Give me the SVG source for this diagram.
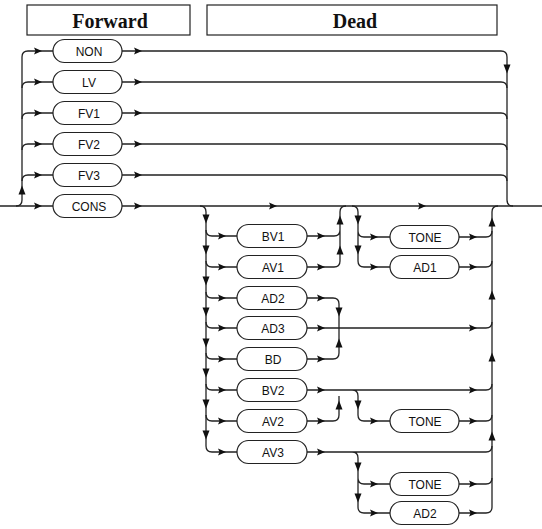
<svg xmlns="http://www.w3.org/2000/svg" width="542" height="529" viewBox="0 0 542 529">
<style>
.hdr{fill:#fff;stroke:#222;stroke-width:1.2}
.ht{font-family:"Liberation Serif",serif;font-weight:bold;font-size:20px;fill:#111;text-anchor:middle}
.pill{fill:#fff;stroke:#222;stroke-width:1.2}
.pt{font-family:"Liberation Sans",Arial,sans-serif;font-size:12px;fill:#111;text-anchor:middle}
.ln{fill:none;stroke:#222;stroke-width:1.3}
.ah{fill:#111}
</style>
<defs>
<path id="ar" d="M-4,-3.5 L4,0 L-4,3.5 L-2.5,0 Z"/>
<path id="ad" d="M-3.5,-4.5 L3.5,-4.5 L0,4.5 Z"/>
<path id="au" d="M-3.5,4.5 L3.5,4.5 L0,-4.5 Z"/>
</defs>
<g id="header-forward"><rect class="hdr" x="27" y="5" width="163" height="30"/><text class="ht" x="110" y="28">Forward</text></g>
<g id="header-dead"><rect class="hdr" x="207" y="5" width="290" height="30"/><text class="ht" x="355" y="28">Dead</text></g>
<g id="connectors">
<path class="ln" d="M0,206 H53"/>
<path class="ln" d="M16,206 q6,0 6,-6 V57 q0,-6 6,-6 H53"/>
<path class="ln" d="M22,88 q0,-6 6,-6 H53 M22,119 q0,-6 6,-6 H53 M22,150 q0,-6 6,-6 H53 M22,181 q0,-6 6,-6 H53"/>
<path class="ln" d="M122,51 H501 q6,0 6,6 V200 q0,6 6,6"/>
<path class="ln" d="M122,82 H501 q6,0 6,6 M122,113 H501 q6,0 6,6 M122,144 H501 q6,0 6,6 M122,175 H501 q6,0 6,6"/>
<path class="ln" d="M122,206 H542"/>
<path class="ln" d="M200,206 q6,0 6,6 V446 q0,6 6,6 H237"/>
<path class="ln" d="M206,230 q0,6 6,6 H237 M206,261 q0,6 6,6 H237 M206,292 q0,6 6,6 H237 M206,322 q0,6 6,6 H237 M206,353 q0,6 6,6 H237 M206,384 q0,6 6,6 H237 M206,415 q0,6 6,6 H237"/>
<path class="ln" d="M307,236 H334 q6,0 6,-6 M307,267 H334 q6,0 6,-6 V212 q0,-6 6,-6"/>
<path class="ln" d="M352,206 q6,0 6,6 V261 q0,6 6,6 H390 M358,231 q0,6 6,6 H390"/>
<path class="ln" d="M459,237 H486 q6,0 6,-6 M459,267 H486 q6,0 6,-6"/>
<path class="ln" d="M459,513 H486 q6,0 6,-6 V212 q0,-6 6,-6"/>
<path class="ln" d="M307,298 H333 q6,0 6,6 V353 q0,6 -6,6 H307 M307,328 H486 q6,0 6,-6"/>
<path class="ln" d="M307,390 H486 q6,0 6,-6 M307,421 H333 q6,0 6,-6 V396 M352,390 q6,0 6,6 V415 q0,6 6,6 H390 M459,421 H486 q6,0 6,-6"/>
<path class="ln" d="M307,452 H486 q6,0 6,-6 M352,452 q6,0 6,6 V507 q0,6 6,6 H390 M358,478 q0,6 6,6 H390 M459,484 H486 q6,0 6,-6"/>
<g class="ah">
<use href="#ar" x="38" y="51"/><use href="#ar" x="38" y="82"/><use href="#ar" x="38" y="113"/><use href="#ar" x="38" y="144"/><use href="#ar" x="38" y="175"/><use href="#ar" x="38" y="206"/>
<use href="#au" x="22" y="190"/>
<use href="#ar" x="138" y="51"/><use href="#ar" x="138" y="82"/><use href="#ar" x="138" y="113"/><use href="#ar" x="138" y="144"/><use href="#ar" x="138" y="175"/><use href="#ar" x="138" y="206"/>
<use href="#ad" x="507" y="69"/>
<use href="#ar" x="273" y="206"/><use href="#ar" x="422" y="206"/>
<use href="#ad" x="206" y="219"/><use href="#ad" x="206" y="250"/><use href="#ad" x="206" y="281"/><use href="#ad" x="206" y="312"/><use href="#ad" x="206" y="343"/><use href="#ad" x="206" y="373"/><use href="#ad" x="206" y="404"/><use href="#ad" x="206" y="435"/>
<use href="#ar" x="222" y="236"/><use href="#ar" x="222" y="267"/><use href="#ar" x="222" y="298"/><use href="#ar" x="222" y="328"/><use href="#ar" x="222" y="359"/><use href="#ar" x="222" y="390"/><use href="#ar" x="222" y="421"/><use href="#ar" x="222" y="452"/>
<use href="#ar" x="321" y="236"/><use href="#ar" x="321" y="267"/><use href="#ar" x="321" y="298"/><use href="#ar" x="321" y="328"/><use href="#ar" x="321" y="359"/><use href="#ar" x="321" y="390"/><use href="#ar" x="321" y="421"/><use href="#ar" x="321" y="452"/>
<use href="#au" x="340" y="220"/><use href="#au" x="340" y="250"/>
<use href="#ad" x="358" y="220"/><use href="#ad" x="358" y="250"/>
<use href="#ar" x="374" y="237"/><use href="#ar" x="374" y="267"/>
<use href="#ar" x="473" y="237"/><use href="#ar" x="473" y="267"/>
<use href="#au" x="492" y="222"/><use href="#au" x="492" y="295"/><use href="#au" x="492" y="357"/><use href="#au" x="492" y="436"/>
<use href="#ad" x="339" y="312"/><use href="#au" x="339" y="343"/>
<use href="#ar" x="473" y="328"/><use href="#ar" x="473" y="390"/>
<use href="#au" x="339" y="405"/><use href="#ad" x="358" y="405"/>
<use href="#ar" x="374" y="421"/><use href="#ar" x="473" y="421"/>
<use href="#ad" x="358" y="467"/><use href="#ad" x="358" y="498"/>
<use href="#ar" x="374" y="484"/><use href="#ar" x="374" y="513"/>
<use href="#ar" x="473" y="484"/><use href="#ar" x="473" y="513"/>
</g>
</g>
<g id="n-NON"><rect class="pill" x="53" y="39.5" width="69" height="23" rx="11.5"/><text class="pt" x="89" y="55.5">NON</text></g>
<g id="n-LV"><rect class="pill" x="53" y="70.5" width="69" height="23" rx="11.5"/><text class="pt" x="89" y="86.5">LV</text></g>
<g id="n-FV1"><rect class="pill" x="53" y="101.5" width="69" height="23" rx="11.5"/><text class="pt" x="89" y="117.5">FV1</text></g>
<g id="n-FV2"><rect class="pill" x="53" y="132.5" width="69" height="23" rx="11.5"/><text class="pt" x="89" y="148.5">FV2</text></g>
<g id="n-FV3"><rect class="pill" x="53" y="163.5" width="69" height="23" rx="11.5"/><text class="pt" x="89" y="179.5">FV3</text></g>
<g id="n-CONS"><rect class="pill" x="53" y="194.5" width="69" height="23" rx="11.5"/><text class="pt" x="89" y="210.5">CONS</text></g>
<g id="n-BV1"><rect class="pill" x="237" y="224.5" width="70" height="23" rx="11.5"/><text class="pt" x="273" y="240.5">BV1</text></g>
<g id="n-AV1"><rect class="pill" x="237" y="255.5" width="70" height="23" rx="11.5"/><text class="pt" x="273" y="271.5">AV1</text></g>
<g id="n-AD2"><rect class="pill" x="237" y="286.5" width="70" height="23" rx="11.5"/><text class="pt" x="273" y="302.5">AD2</text></g>
<g id="n-AD3"><rect class="pill" x="237" y="316.5" width="70" height="23" rx="11.5"/><text class="pt" x="273" y="332.5">AD3</text></g>
<g id="n-BD"><rect class="pill" x="237" y="347.5" width="70" height="23" rx="11.5"/><text class="pt" x="273" y="363.5">BD</text></g>
<g id="n-BV2"><rect class="pill" x="237" y="378.5" width="70" height="23" rx="11.5"/><text class="pt" x="273" y="394.5">BV2</text></g>
<g id="n-AV2"><rect class="pill" x="237" y="409.5" width="70" height="23" rx="11.5"/><text class="pt" x="273" y="425.5">AV2</text></g>
<g id="n-AV3"><rect class="pill" x="237" y="440.5" width="70" height="23" rx="11.5"/><text class="pt" x="273" y="456.5">AV3</text></g>
<g id="n-TONE1"><rect class="pill" x="390" y="225.5" width="69" height="23" rx="11.5"/><text class="pt" x="425" y="241.5">TONE</text></g>
<g id="n-AD1"><rect class="pill" x="390" y="255.5" width="69" height="23" rx="11.5"/><text class="pt" x="425" y="271.5">AD1</text></g>
<g id="n-TONE2"><rect class="pill" x="390" y="409.5" width="69" height="23" rx="11.5"/><text class="pt" x="425" y="425.5">TONE</text></g>
<g id="n-TONE3"><rect class="pill" x="390" y="472.5" width="69" height="23" rx="11.5"/><text class="pt" x="425" y="488.5">TONE</text></g>
<g id="n-AD2b"><rect class="pill" x="390" y="501.5" width="69" height="23" rx="11.5"/><text class="pt" x="425" y="517.5">AD2</text></g>
</svg>
